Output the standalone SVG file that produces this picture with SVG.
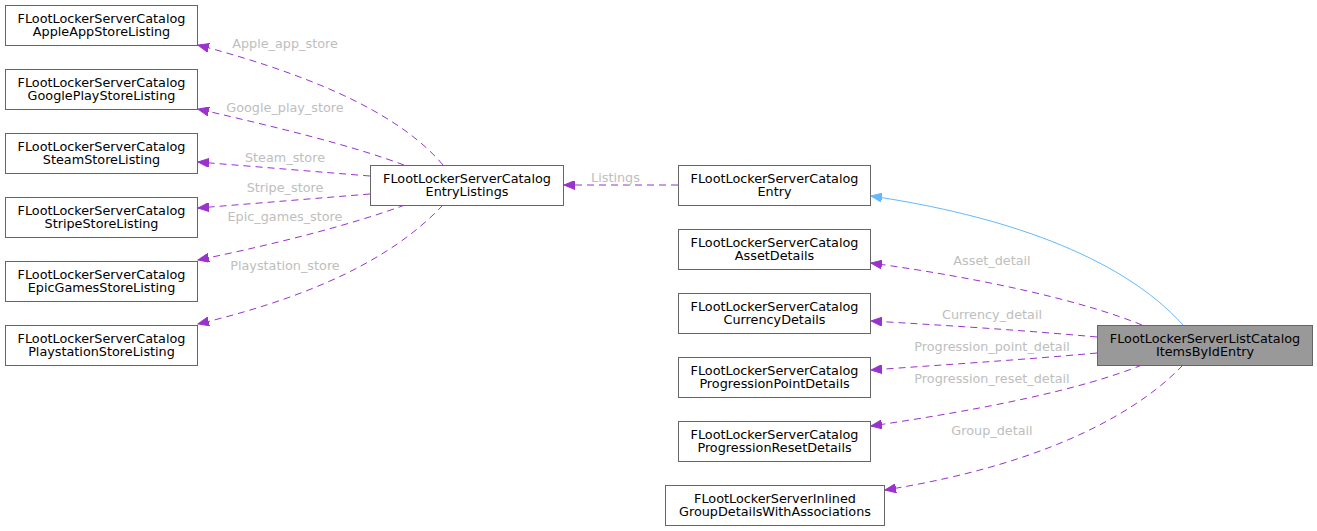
<svg xmlns="http://www.w3.org/2000/svg" width="1317" height="531" viewBox="0 0 1317 531">
<style>
.node rect{fill:#ffffff;stroke:#666666;stroke-width:1}
.node.main rect{fill:#999999}
.node text{font-family:"DejaVu Sans",sans-serif;font-size:12.8px;fill:#000000;text-anchor:middle}
.edge{fill:none;stroke:#9a32cd;stroke-width:1;stroke-dasharray:7,5}
.inh{fill:none;stroke:#63b8ff;stroke-width:1}
.lbl{font-family:"DejaVu Sans",sans-serif;font-size:12.8px;fill:#bebebe;text-anchor:middle}
</style>
<defs>
<marker id="ap" markerUnits="userSpaceOnUse" markerWidth="12" markerHeight="9" refX="11" refY="4.5" orient="auto">
<path d="M0,0 L11,4.5 L0,9 z" fill="#9a32cd" stroke="#9a32cd" stroke-width="1"/>
</marker>
<marker id="ab" markerUnits="userSpaceOnUse" markerWidth="12" markerHeight="9" refX="11" refY="4.5" orient="auto">
<path d="M0,0 L11,4.5 L0,9 z" fill="#63b8ff" stroke="#63b8ff" stroke-width="1"/>
</marker>
</defs>
<g id="connectors">
<path class="edge" marker-end="url(#ap)" d="M443,165 C405,120 330,80 198,45"/>
<path class="edge" marker-end="url(#ap)" d="M404,165 C350,145 280,128 198,109"/>
<path class="edge" marker-end="url(#ap)" d="M370,176 C320,172 260,167 198,162"/>
<path class="edge" marker-end="url(#ap)" d="M370,194 C320,198 260,203 198,208"/>
<path class="edge" marker-end="url(#ap)" d="M405,205 C350,225 280,243 198,260"/>
<path class="edge" marker-end="url(#ap)" d="M443,205 C405,245 340,290 198,324"/>
<path class="edge" marker-end="url(#ap)" d="M678,185 L564,185"/>
<path class="inh" marker-end="url(#ab)" d="M1183,325 C1120,255 1000,215 871,196"/>
<path class="edge" marker-end="url(#ap)" d="M1142,325 C1080,300 980,278 871,263"/>
<path class="edge" marker-end="url(#ap)" d="M1097,337 C1020,330 940,325 871,321"/>
<path class="edge" marker-end="url(#ap)" d="M1097,353 C1020,360 940,365 871,370"/>
<path class="edge" marker-end="url(#ap)" d="M1142,365 C1080,390 980,410 871,426"/>
<path class="edge" marker-end="url(#ap)" d="M1183,365 C1145,405 1060,462 885,490"/>
<text class="lbl" x="285" y="48">Apple_app_store</text>
<text class="lbl" x="285" y="112">Google_play_store</text>
<text class="lbl" x="285" y="161.5">Steam_store</text>
<text class="lbl" x="285" y="192">Stripe_store</text>
<text class="lbl" x="285" y="221">Epic_games_store</text>
<text class="lbl" x="285" y="270">Playstation_store</text>
<text class="lbl" x="615.5" y="181.5">Listings</text>
<text class="lbl" x="992" y="265">Asset_detail</text>
<text class="lbl" x="992" y="318.5">Currency_detail</text>
<text class="lbl" x="992" y="350.5">Progression_point_detail</text>
<text class="lbl" x="992" y="382.5">Progression_reset_detail</text>
<text class="lbl" x="992" y="434.5">Group_detail</text>
</g>
<g id="n_apple" class="node"><rect x="5.5" y="5.5" width="192" height="40"/><text x="101.5" y="23">FLootLockerServerCatalog</text><text x="101.5" y="36.3">AppleAppStoreListing</text></g>
<g id="n_google" class="node"><rect x="5.5" y="69.5" width="192" height="40"/><text x="101.5" y="87">FLootLockerServerCatalog</text><text x="101.5" y="100.3">GooglePlayStoreListing</text></g>
<g id="n_steam" class="node"><rect x="5.5" y="133.5" width="192" height="40"/><text x="101.5" y="151">FLootLockerServerCatalog</text><text x="101.5" y="164.3">SteamStoreListing</text></g>
<g id="n_stripe" class="node"><rect x="5.5" y="197.5" width="192" height="40"/><text x="101.5" y="215">FLootLockerServerCatalog</text><text x="101.5" y="228.3">StripeStoreListing</text></g>
<g id="n_epic" class="node"><rect x="5.5" y="261.5" width="192" height="40"/><text x="101.5" y="279">FLootLockerServerCatalog</text><text x="101.5" y="292.3">EpicGamesStoreListing</text></g>
<g id="n_play" class="node"><rect x="5.5" y="325.5" width="192" height="40"/><text x="101.5" y="343">FLootLockerServerCatalog</text><text x="101.5" y="356.3">PlaystationStoreListing</text></g>
<g id="n_listings" class="node"><rect x="370.5" y="165.5" width="193" height="40"/><text x="467" y="183">FLootLockerServerCatalog</text><text x="467" y="196.3">EntryListings</text></g>
<g id="n_entry" class="node"><rect x="678.5" y="165.5" width="192" height="40"/><text x="774.5" y="183">FLootLockerServerCatalog</text><text x="774.5" y="196.3">Entry</text></g>
<g id="n_asset" class="node"><rect x="678.5" y="229.5" width="192" height="40"/><text x="774.5" y="247">FLootLockerServerCatalog</text><text x="774.5" y="260.3">AssetDetails</text></g>
<g id="n_currency" class="node"><rect x="678.5" y="293.5" width="192" height="40"/><text x="774.5" y="311">FLootLockerServerCatalog</text><text x="774.5" y="324.3">CurrencyDetails</text></g>
<g id="n_ppoint" class="node"><rect x="678.5" y="357.5" width="192" height="40"/><text x="774.5" y="375">FLootLockerServerCatalog</text><text x="774.5" y="388.3">ProgressionPointDetails</text></g>
<g id="n_preset" class="node"><rect x="678.5" y="421.5" width="192" height="40"/><text x="774.5" y="439">FLootLockerServerCatalog</text><text x="774.5" y="452.3">ProgressionResetDetails</text></g>
<g id="n_group" class="node"><rect x="665.5" y="485.5" width="219" height="40"/><text x="775" y="503">FLootLockerServerInlined</text><text x="775" y="516.3">GroupDetailsWithAssociations</text></g>
<g id="n_main" class="node main"><rect x="1097.5" y="325.5" width="215" height="40"/><text x="1205" y="343">FLootLockerServerListCatalog</text><text x="1205" y="356.3">ItemsByIdEntry</text></g>
</svg>
